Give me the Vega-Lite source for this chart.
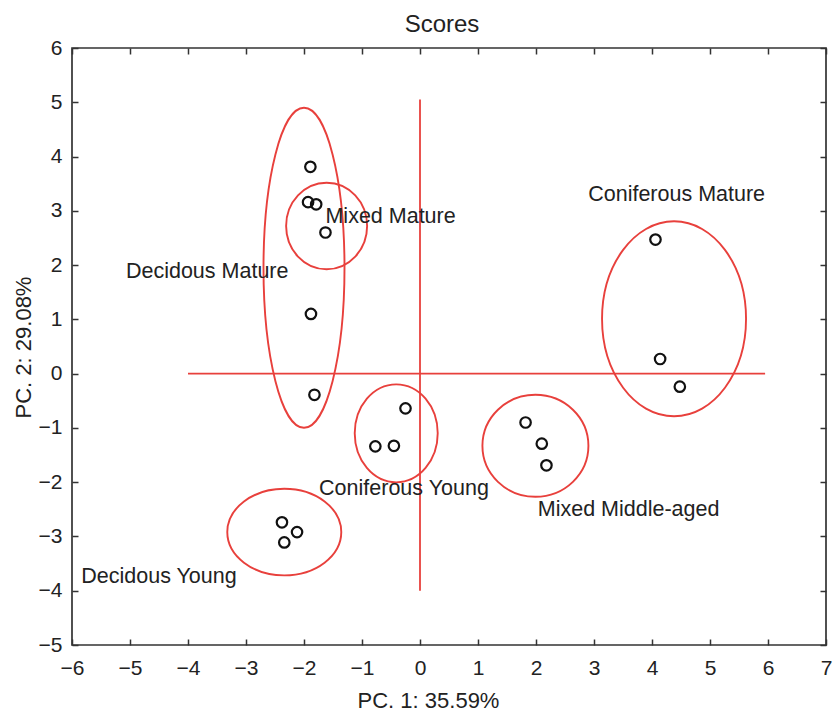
{
  "$schema": "https://vega.github.io/schema/vega-lite/v6.json",
  "width": 754,
  "height": 597,
  "autosize": "none",
  "padding": {"left": 72, "top": 48, "right": 7, "bottom": 66},
  "background": "white",
  "title": {"text": "Scores", "fontSize": 24, "font": "Liberation Sans", "fontWeight": "normal", "color": "#222", "offset": -19, "baseline": "alphabetic", "dx": -7},
  "config": {
    "view": {"stroke": "#333", "strokeWidth": 1.7},
    "axis": {"domain": false, "grid": false, "tickColor": "#333", "tickWidth": 1.5, "tickSize": -6, "labelFont": "Liberation Sans", "labelFontSize": 21, "labelColor": "#222", "titleFont": "Liberation Sans", "titleFontSize": 22, "titleFontWeight": "normal", "titleColor": "#222", "labelFlush": false, "labelOverlap": false}
  },
  "datasets": {
    "points": [
      {"group": "Decidous Mature", "x": -1.89, "y": 3.81},
      {"group": "Decidous Mature", "x": -1.88, "y": 1.10},
      {"group": "Decidous Mature", "x": -1.82, "y": -0.39},
      {"group": "Mixed Mature", "x": -1.93, "y": 3.16},
      {"group": "Mixed Mature", "x": -1.79, "y": 3.12},
      {"group": "Mixed Mature", "x": -1.63, "y": 2.60},
      {"group": "Coniferous Young", "x": -0.25, "y": -0.64},
      {"group": "Coniferous Young", "x": -0.77, "y": -1.34},
      {"group": "Coniferous Young", "x": -0.45, "y": -1.33},
      {"group": "Decidous Young", "x": -2.38, "y": -2.74},
      {"group": "Decidous Young", "x": -2.12, "y": -2.92},
      {"group": "Decidous Young", "x": -2.34, "y": -3.11},
      {"group": "Mixed Middle-aged", "x": 1.82, "y": -0.90},
      {"group": "Mixed Middle-aged", "x": 2.10, "y": -1.29},
      {"group": "Mixed Middle-aged", "x": 2.18, "y": -1.69},
      {"group": "Coniferous Mature", "x": 4.06, "y": 2.47},
      {"group": "Coniferous Mature", "x": 4.14, "y": 0.27},
      {"group": "Coniferous Mature", "x": 4.48, "y": -0.24}
    ],
    "ellipses": [
      {"group": "Decidous Mature", "cx": -2.0, "cy": 1.95},
      {"group": "Mixed Mature", "cx": -1.61, "cy": 2.72},
      {"group": "Coniferous Mature", "cx": 4.38, "cy": 1.01},
      {"group": "Coniferous Young", "cx": -0.41, "cy": -1.10},
      {"group": "Mixed Middle-aged", "cx": 1.99, "cy": -1.33},
      {"group": "Decidous Young", "cx": -2.34, "cy": -2.92}
    ],
    "labels": [
      {"label": "Decidous Mature", "x": -5.07, "y": 1.77},
      {"label": "Mixed Mature", "x": -1.63, "y": 2.77},
      {"label": "Coniferous Mature", "x": 2.90, "y": 3.18},
      {"label": "Coniferous Young", "x": -1.74, "y": -2.24},
      {"label": "Mixed Middle-aged", "x": 2.03, "y": -2.63},
      {"label": "Decidous Young", "x": -5.84, "y": -3.86}
    ],
    "axes": [
      {"x1": -4, "x2": 5.95, "y1": 0, "y2": 0},
      {"x1": 0, "x2": 0, "y1": -4, "y2": 5.05}
    ]
  },
  "resolve": {"axis": {"x": "independent", "y": "independent"}},
  "layer": [
    {
      "data": {"name": "ellipses"},
      "mark": {"type": "point", "filled": false, "stroke": "#e8403c", "strokeWidth": 1.9, "size": 4, "opacity": 1},
      "encoding": {
        "x": {"field": "cx", "type": "quantitative", "scale": {"domain": [-6, 7], "nice": false, "zero": false},
              "axis": {"orient": "bottom", "values": [-6,-5,-4,-3,-2,-1,0,1,2,3,4,5,6,7], "labelPadding": 18, "title": "PC. 1: 35.59%", "titleX": 356, "titleY": 62, "titleBaseline": "alphabetic", "titleAlign": "center"}},
        "y": {"field": "cy", "type": "quantitative", "scale": {"domain": [-5, 6], "nice": false, "zero": false},
              "axis": {"orient": "left", "values": [-5,-4,-3,-2,-1,0,1,2,3,4,5,6], "labelPadding": 16, "title": "PC. 2: 29.08%", "titleX": -49, "titleY": 299, "titleBaseline": "middle", "titleAlign": "center", "titleAngle": -90}},
        "shape": {"field": "group", "type": "nominal", "legend": null,
                  "scale": {"domain": ["Decidous Mature", "Mixed Mature", "Coniferous Mature", "Coniferous Young", "Mixed Middle-aged", "Decidous Young"],
                            "range": [
                              "M -40.5 0 A 40.5 160 0 1 0 40.5 0 A 40.5 160 0 1 0 -40.5 0 Z",
                              "M -40.5 0 A 40.5 43.3 0 1 0 40.5 0 A 40.5 43.3 0 1 0 -40.5 0 Z",
                              "M -72 0 A 72 97.5 0 1 0 72 0 A 72 97.5 0 1 0 -72 0 Z",
                              "M -41.5 0 A 41.5 49 0 1 0 41.5 0 A 41.5 49 0 1 0 -41.5 0 Z",
                              "M -53 0 A 53 51 0 1 0 53 0 A 53 51 0 1 0 -53 0 Z",
                              "M -57 0 A 57 43.3 0 1 0 57 0 A 57 43.3 0 1 0 -57 0 Z"
                            ]}}
      }
    },
    {
      "data": {"name": "axes"},
      "mark": {"type": "rule", "stroke": "#e8403c", "strokeWidth": 1.8},
      "encoding": {
        "x": {"field": "x1", "type": "quantitative", "axis": null},
        "x2": {"field": "x2"},
        "y": {"field": "y1", "type": "quantitative", "axis": null},
        "y2": {"field": "y2"}
      }
    },
    {
      "data": {"name": "points"},
      "mark": {"type": "point", "shape": "circle", "filled": false, "stroke": "#111", "strokeWidth": 2.2, "size": 110, "opacity": 1},
      "encoding": {
        "x": {"field": "x", "type": "quantitative",
              "axis": {"orient": "top", "values": [-6,-5,-4,-3,-2,-1,0,1,2,3,4,5,6,7], "labels": false, "title": null}},
        "y": {"field": "y", "type": "quantitative",
              "axis": {"orient": "right", "values": [-5,-4,-3,-2,-1,0,1,2,3,4,5,6], "labels": false, "title": null}}
      }
    },
    {
      "data": {"name": "labels"},
      "mark": {"type": "text", "align": "left", "baseline": "alphabetic", "font": "Liberation Sans", "fontSize": 21.5, "color": "#222"},
      "encoding": {
        "x": {"field": "x", "type": "quantitative", "axis": null},
        "y": {"field": "y", "type": "quantitative", "axis": null},
        "text": {"field": "label"}
      }
    }
  ]
}
